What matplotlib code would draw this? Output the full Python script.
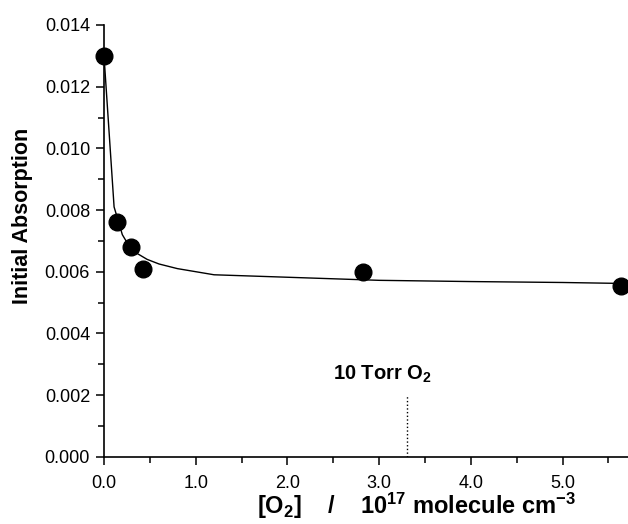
import numpy as np
import matplotlib
matplotlib.use('Agg')
import matplotlib.pyplot as plt
from matplotlib.ticker import MultipleLocator, FormatStrFormatter

plt.rcParams['font.family'] = 'Liberation Sans'
plt.rcParams['mathtext.fontset'] = 'custom'
plt.rcParams['mathtext.rm'] = 'Liberation Sans:bold'
plt.rcParams['mathtext.bf'] = 'Liberation Sans:bold'
plt.rcParams['mathtext.default'] = 'bf'

# measured points
o2_conc = [0.0, 0.138, 0.29, 0.42, 2.82, 5.635]
absorption = [0.0130, 0.00762, 0.00681, 0.00608, 0.00600, 0.00553]

# fitted curve
fit_x = [0.0, 0.11, 0.2, 0.3, 0.47, 0.6, 0.8, 1.2, 2.0, 3.0, 4.0, 5.0, 5.63]
fit_y = [0.0130, 0.0081, 0.0072, 0.0067, 0.0064, 0.00625, 0.0061, 0.0059, 0.00582, 0.00572, 0.00568, 0.00565, 0.00562]

torr_x = 3.30
torr_top = 0.00196

fig = plt.figure(figsize=(6.28, 5.24), dpi=100)
ax = fig.add_axes([0.1656, 0.1284, 0.8344, 0.8239])

ax.plot(fit_x, fit_y, color='black', lw=1.0, zorder=2)
ax.plot(o2_conc, absorption, 'o', color='black', ms=12, zorder=3, clip_on=False)
ax.plot([torr_x, torr_x], [0, torr_top], color='black', ls=':', lw=1.0)
ax.text(3.04, 0.0025, r'10 Torr O$_2$', fontsize=14.5, fontweight='bold', ha='center', va='baseline')

ax.set_xlim(0, 5.714)
ax.set_ylim(0, 0.014)
ax.xaxis.set_major_locator(MultipleLocator(1.0))
ax.xaxis.set_minor_locator(MultipleLocator(0.5))
ax.yaxis.set_major_locator(MultipleLocator(0.002))
ax.yaxis.set_minor_locator(MultipleLocator(0.001))
ax.xaxis.set_major_formatter(FormatStrFormatter('%.1f'))
ax.yaxis.set_major_formatter(FormatStrFormatter('%.3f'))

ax.spines['top'].set_visible(False)
ax.spines['right'].set_visible(False)
for s in ['left', 'bottom']:
    ax.spines[s].set_linewidth(1.2)
ax.tick_params(which='major', length=6, width=1.1, labelsize=13, direction='out', pad=4)
ax.tick_params(axis='x', which='major', pad=7)
ax.tick_params(which='minor', length=4, width=1.1, direction='out')

ax.set_ylabel('Initial Absorption', fontsize=15.5, fontweight='bold', va='center')
ax.yaxis.set_label_coords(-0.156, 0.557)
ax.set_xlabel(r'[O$_2$]    /    10$^{17}$ molecule cm$^{-3}$', fontsize=17, fontweight='bold', va='center')
ax.xaxis.set_label_coords(0.596, -0.114)

fig.savefig('out.png', dpi=100)
